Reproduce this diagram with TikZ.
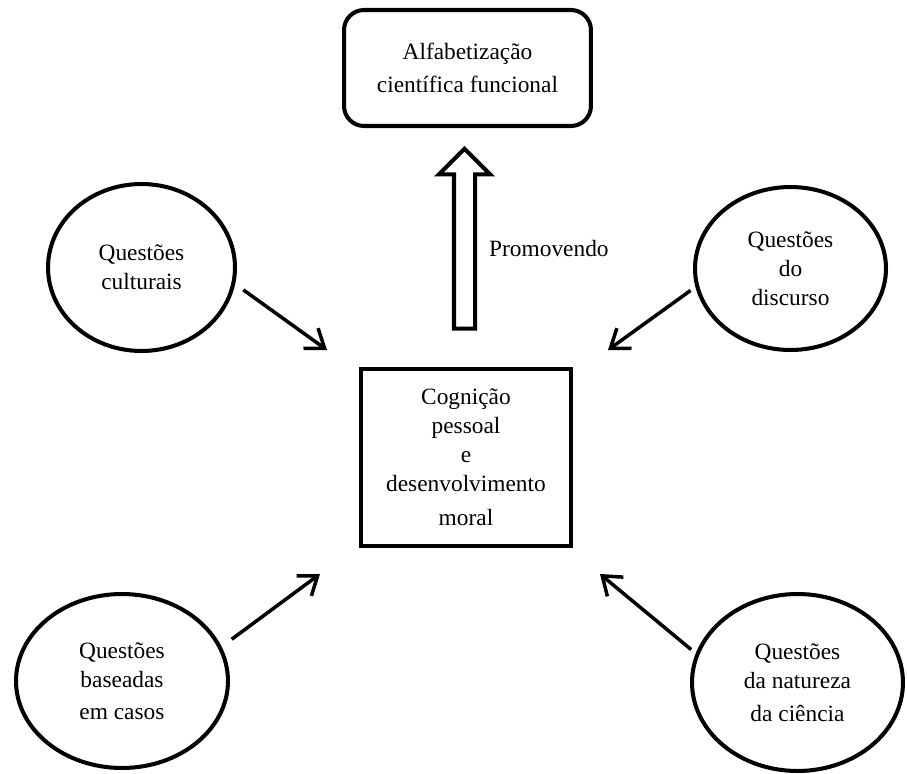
\documentclass[tikz,border=0pt]{standalone}
\usepackage{fontspec}
\setmainfont{Liberation Serif}
\usetikzlibrary{arrows.meta, positioning, shapes.geometric, shapes.arrows}

\begin{document}
\begin{tikzpicture}[x=0.02cm, y=-0.02cm, font=\fontsize{13.3}{16.5}\selectfont]
    \tikzstyle{issue} = [ellipse, draw, line width=2.3pt, align=center, inner sep=0pt]
    \tikzstyle{goal} = [rectangle, rounded corners=0.4cm, draw, line width=2.3pt, align=center, minimum width=4.94cm, minimum height=2.32cm]
    \tikzstyle{core} = [rectangle, draw, line width=2.3pt, align=center, minimum width=4.2cm, minimum height=3.54cm]
    \tikzstyle{feed} = [line width=2pt, -{Straight Barb[length=0.34cm, width=0.5cm]}]
    \useasboundingbox (0,0) rectangle (907,774);
    % goal and centre
    \node[goal] (alfa) at (467.5,68) {Alfabetização\\[2pt]científica funcional};
    \node[core] (cog) at (466,457.5) {Cognição\\pessoal\\e\\desenvolvimento\\[3pt]moral};
    \node[single arrow, draw, line width=2.3pt, rotate=90, inner sep=0pt, text height=0.17cm, text depth=0.17cm,
          single arrow head extend=0.3cm, minimum height=3.6cm] (promo) at (464.5,244) {};
    \node[anchor=west] (promolbl) at (483,249) {Promovendo};
    % the four issues
    \node[issue, minimum width=3.74cm, minimum height=3.34cm] (cult) at (141.5,267.5) {Questões\\culturais};
    \node[issue, minimum width=3.82cm, minimum height=3.26cm] (disc) at (790.5,268.5) {Questões\\do\\discurso};
    \node[issue, minimum width=4.24cm, minimum height=3.48cm] (casos) at (122,681) {Questões\\baseadas\\[2pt]em casos};
    \node[issue, minimum width=4.22cm, minimum height=3.54cm] (nat) at (797.5,682.5) {Questões\\da natureza\\[2pt]da ciência};
    \coordinate (to-cult) at (327,350);
    \coordinate (to-disc) at (608,350);
    \coordinate (to-casos) at (320,574);
    \coordinate (to-nat) at (600,574);
    \draw[feed, shorten <=0.2cm] (cult.-10.7) -- (to-cult);
    \draw[feed, shorten <=0.12cm] (disc.191.8) -- (to-disc);
    \draw[feed, shorten <=0.25cm] (casos.19.1) -- (to-casos);
    \draw[feed, shorten <=0.12cm] (nat.164.8) -- (to-nat);
\end{tikzpicture}
\end{document}
